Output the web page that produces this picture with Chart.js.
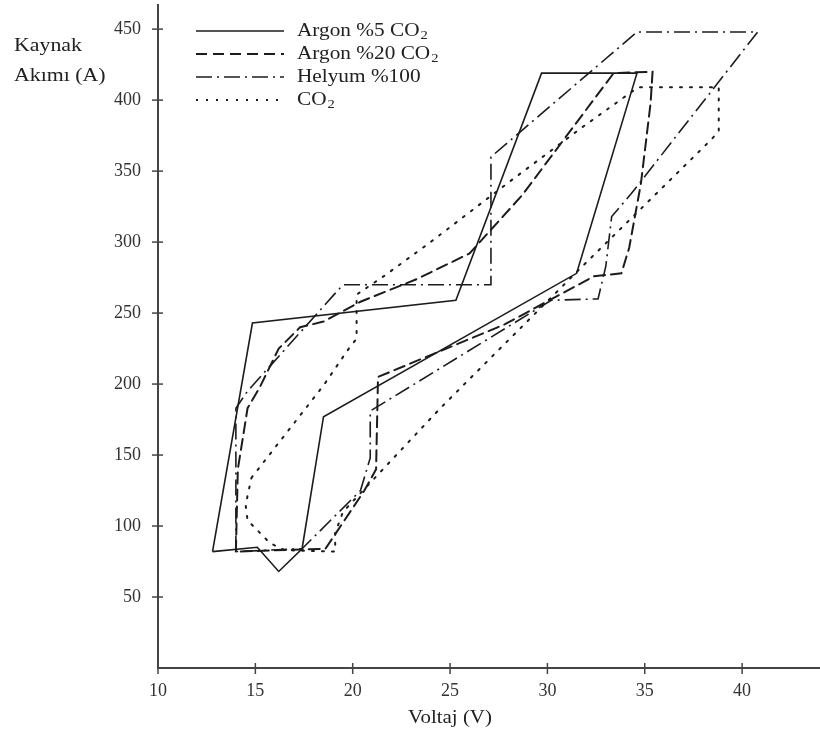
<!DOCTYPE html>
<html>
<head>
<meta charset="utf-8">
<script src="https://cdn.jsdelivr.net/npm/chart.js@4.4.1/dist/chart.umd.min.js"></script>
<style>
  html, body { margin: 0; padding: 0; background: #fff; }
  #wrap { width: 820px; height: 738px; }
</style>
</head>
<body>
<div id="wrap"><canvas id="kaynakChart" width="820" height="738"></canvas></div>
<script>
// tick values
var xTicks = [10, 15, 20, 25, 30, 35, 40];
var yTicks = [50, 100, 150, 200, 250, 300, 350, 400, 450];

// each series is a closed loop of [voltage, current]
var argon5Volt = [12.8, 14.85, 25.3, 29.7, 34.6, 31.5, 18.5, 17.4, 16.2, 15.1, 12.8];
var argon5Amp  = [82, 243, 259, 419, 419, 278, 177, 84, 68, 85, 82];

var argon20Volt = [14.0, 14.1, 14.6, 15.2, 16.2, 17.3, 18.5, 20.4, 23.3, 26.0, 28.7, 33.4, 35.4, 35.3, 34.8, 34.2, 33.8, 32.4, 27.8, 21.3, 21.2, 20.6, 18.6, 14.0];
var argon20Amp  = [82, 140, 183, 197, 225, 240, 244, 258, 274, 292, 333, 419, 420, 398, 341, 296, 278, 276, 242, 205, 140, 125, 84, 82];

var helyumVolt = [14.0, 14.0, 14.6, 19.5, 27.1, 27.1, 34.6, 40.8, 34.3, 33.3, 33.0, 32.6, 30.2, 20.9, 20.9, 20.4, 17.4, 14.0];
var helyumAmp  = [82, 183, 195, 270, 270, 360, 448, 448, 334, 318, 283, 260, 259, 181, 148, 125, 84, 82];

var co2Volt = [14.8, 18.5, 19.8, 20.2, 20.2, 21.6, 23.9, 28.0, 31.8, 34.65, 38.8, 38.8, 38.4, 31.8, 24.5, 19.5, 19.1, 19.1, 16.5, 15.75, 14.6, 14.5, 14.8];
var co2Amp  = [134, 199, 225, 232, 263, 276, 299, 342, 381, 409, 409, 378, 372, 283, 183, 110, 95, 82, 83, 88, 104, 115, 134];

function pts(xs, ys) {
  return xs.map(function (x, i) { return { x: x, y: ys[i] }; });
}

var lineColor = '#1c1c1c';
var serif = '"Liberation Serif", "DejaVu Serif", serif';

var series = [
  { label: 'Argon %5 CO', sub: '2', data: pts(argon5Volt, argon5Amp), dash: [] },
  { label: 'Argon %20 CO', sub: '2', data: pts(argon20Volt, argon20Amp), dash: [11, 6] },
  { label: 'Helyum %100', sub: '', data: pts(helyumVolt, helyumAmp), dash: [16, 5, 2, 5] },
  { label: 'CO', sub: '2', data: pts(co2Volt, co2Amp), dash: [2, 8] }
];

// text is a bit wide in the original
function wideText(ctx, txt, x, y, sx) {
  ctx.save();
  ctx.translate(x, y);
  ctx.scale(sx, 1);
  ctx.fillText(txt, 0, 0);
  ctx.restore();
  return ctx.measureText(txt).width * sx;
}

// titles, legend and crossing tick marks
var decor = {
  id: 'decor',
  afterDraw: function (chart) {
    var ctx = chart.ctx;
    var area = chart.chartArea;
    var xs = chart.scales.x, ys = chart.scales.y;
    ctx.save();

    ctx.strokeStyle = '#444';
    ctx.lineWidth = 1.5;
    ctx.setLineDash([]);
    xs.ticks.forEach(function (t) {
      var px = xs.getPixelForValue(t.value);
      ctx.beginPath(); ctx.moveTo(px, area.bottom - 5); ctx.lineTo(px, area.bottom + 6); ctx.stroke();
    });
    ys.ticks.forEach(function (t) {
      var py = ys.getPixelForValue(t.value);
      ctx.beginPath(); ctx.moveTo(area.left - 6, py); ctx.lineTo(area.left + 5, py); ctx.stroke();
    });

    ctx.fillStyle = '#222';
    ctx.font = '19px ' + serif;
    ctx.textBaseline = 'middle';
    ctx.textAlign = 'left';
    wideText(ctx, 'Kaynak', 14, 46, 1.15);
    wideText(ctx, 'Akımı (A)', 14, 76, 1.15);
    ctx.textAlign = 'center';
    wideText(ctx, 'Voltaj (V)', 450, 718, 1.1);

    // legend
    ctx.textAlign = 'left';
    series.forEach(function (s, i) {
      var y = 31 + i * 23;
      ctx.strokeStyle = lineColor;
      ctx.lineWidth = s.dash.length === 2 ? 2 : 1.5;
      ctx.setLineDash(s.dash);
      ctx.beginPath(); ctx.moveTo(196, y); ctx.lineTo(284, y); ctx.stroke();
      ctx.setLineDash([]);
      ctx.font = '19px ' + serif;
      var w = wideText(ctx, s.label, 297, y, 1.12);
      if (s.sub) {
        ctx.font = '13px ' + serif;
        wideText(ctx, s.sub, 298 + w, y + 5, 1.12);
      }
    });
    ctx.restore();
  }
};

var ctx = document.getElementById('kaynakChart').getContext('2d');
var myChart = new Chart(ctx, {
  type: 'scatter',
  data: {
    datasets: series.map(function (s) {
      return {
        label: s.label + s.sub,
        data: s.data,
        showLine: true,
        fill: false,
        tension: 0,
        pointRadius: 0,
        borderColor: lineColor,
        borderWidth: s.dash.length === 2 ? 2 : 1.6,
        borderDash: s.dash,
        borderCapStyle: s.dash.length === 2 ? 'round' : 'butt'
      };
    })
  },
  options: {
    responsive: false,
    animation: false,
    layout: { padding: { top: 5, right: 0, left: 0, bottom: 0 } },
    plugins: { legend: { display: false }, tooltip: { enabled: false } },
    scales: {
      x: {
        type: 'linear',
        min: 10,
        max: 44,
        afterBuildTicks: function (scale) { scale.ticks = xTicks.map(function (v) { return { value: v }; }); },
        afterFit: function (scale) { scale.height = 70; },
        grid: { drawOnChartArea: false, drawTicks: false },
        border: { color: '#444', width: 2 },
        ticks: { color: '#333', padding: 12, font: { family: serif, size: 18 } }
      },
      y: {
        type: 'linear',
        min: 0,
        max: 467,
        afterBuildTicks: function (scale) { scale.ticks = yTicks.map(function (v) { return { value: v }; }); },
        afterFit: function (scale) { scale.width = 158; scale.paddingTop = 0; scale.paddingBottom = 0; },
        grid: { drawOnChartArea: false, drawTicks: false },
        border: { color: '#444', width: 2 },
        ticks: { color: '#333', padding: 17, font: { family: serif, size: 18 } }
      }
    }
  },
  plugins: [decor]
});
</script>
</body>
</html>
